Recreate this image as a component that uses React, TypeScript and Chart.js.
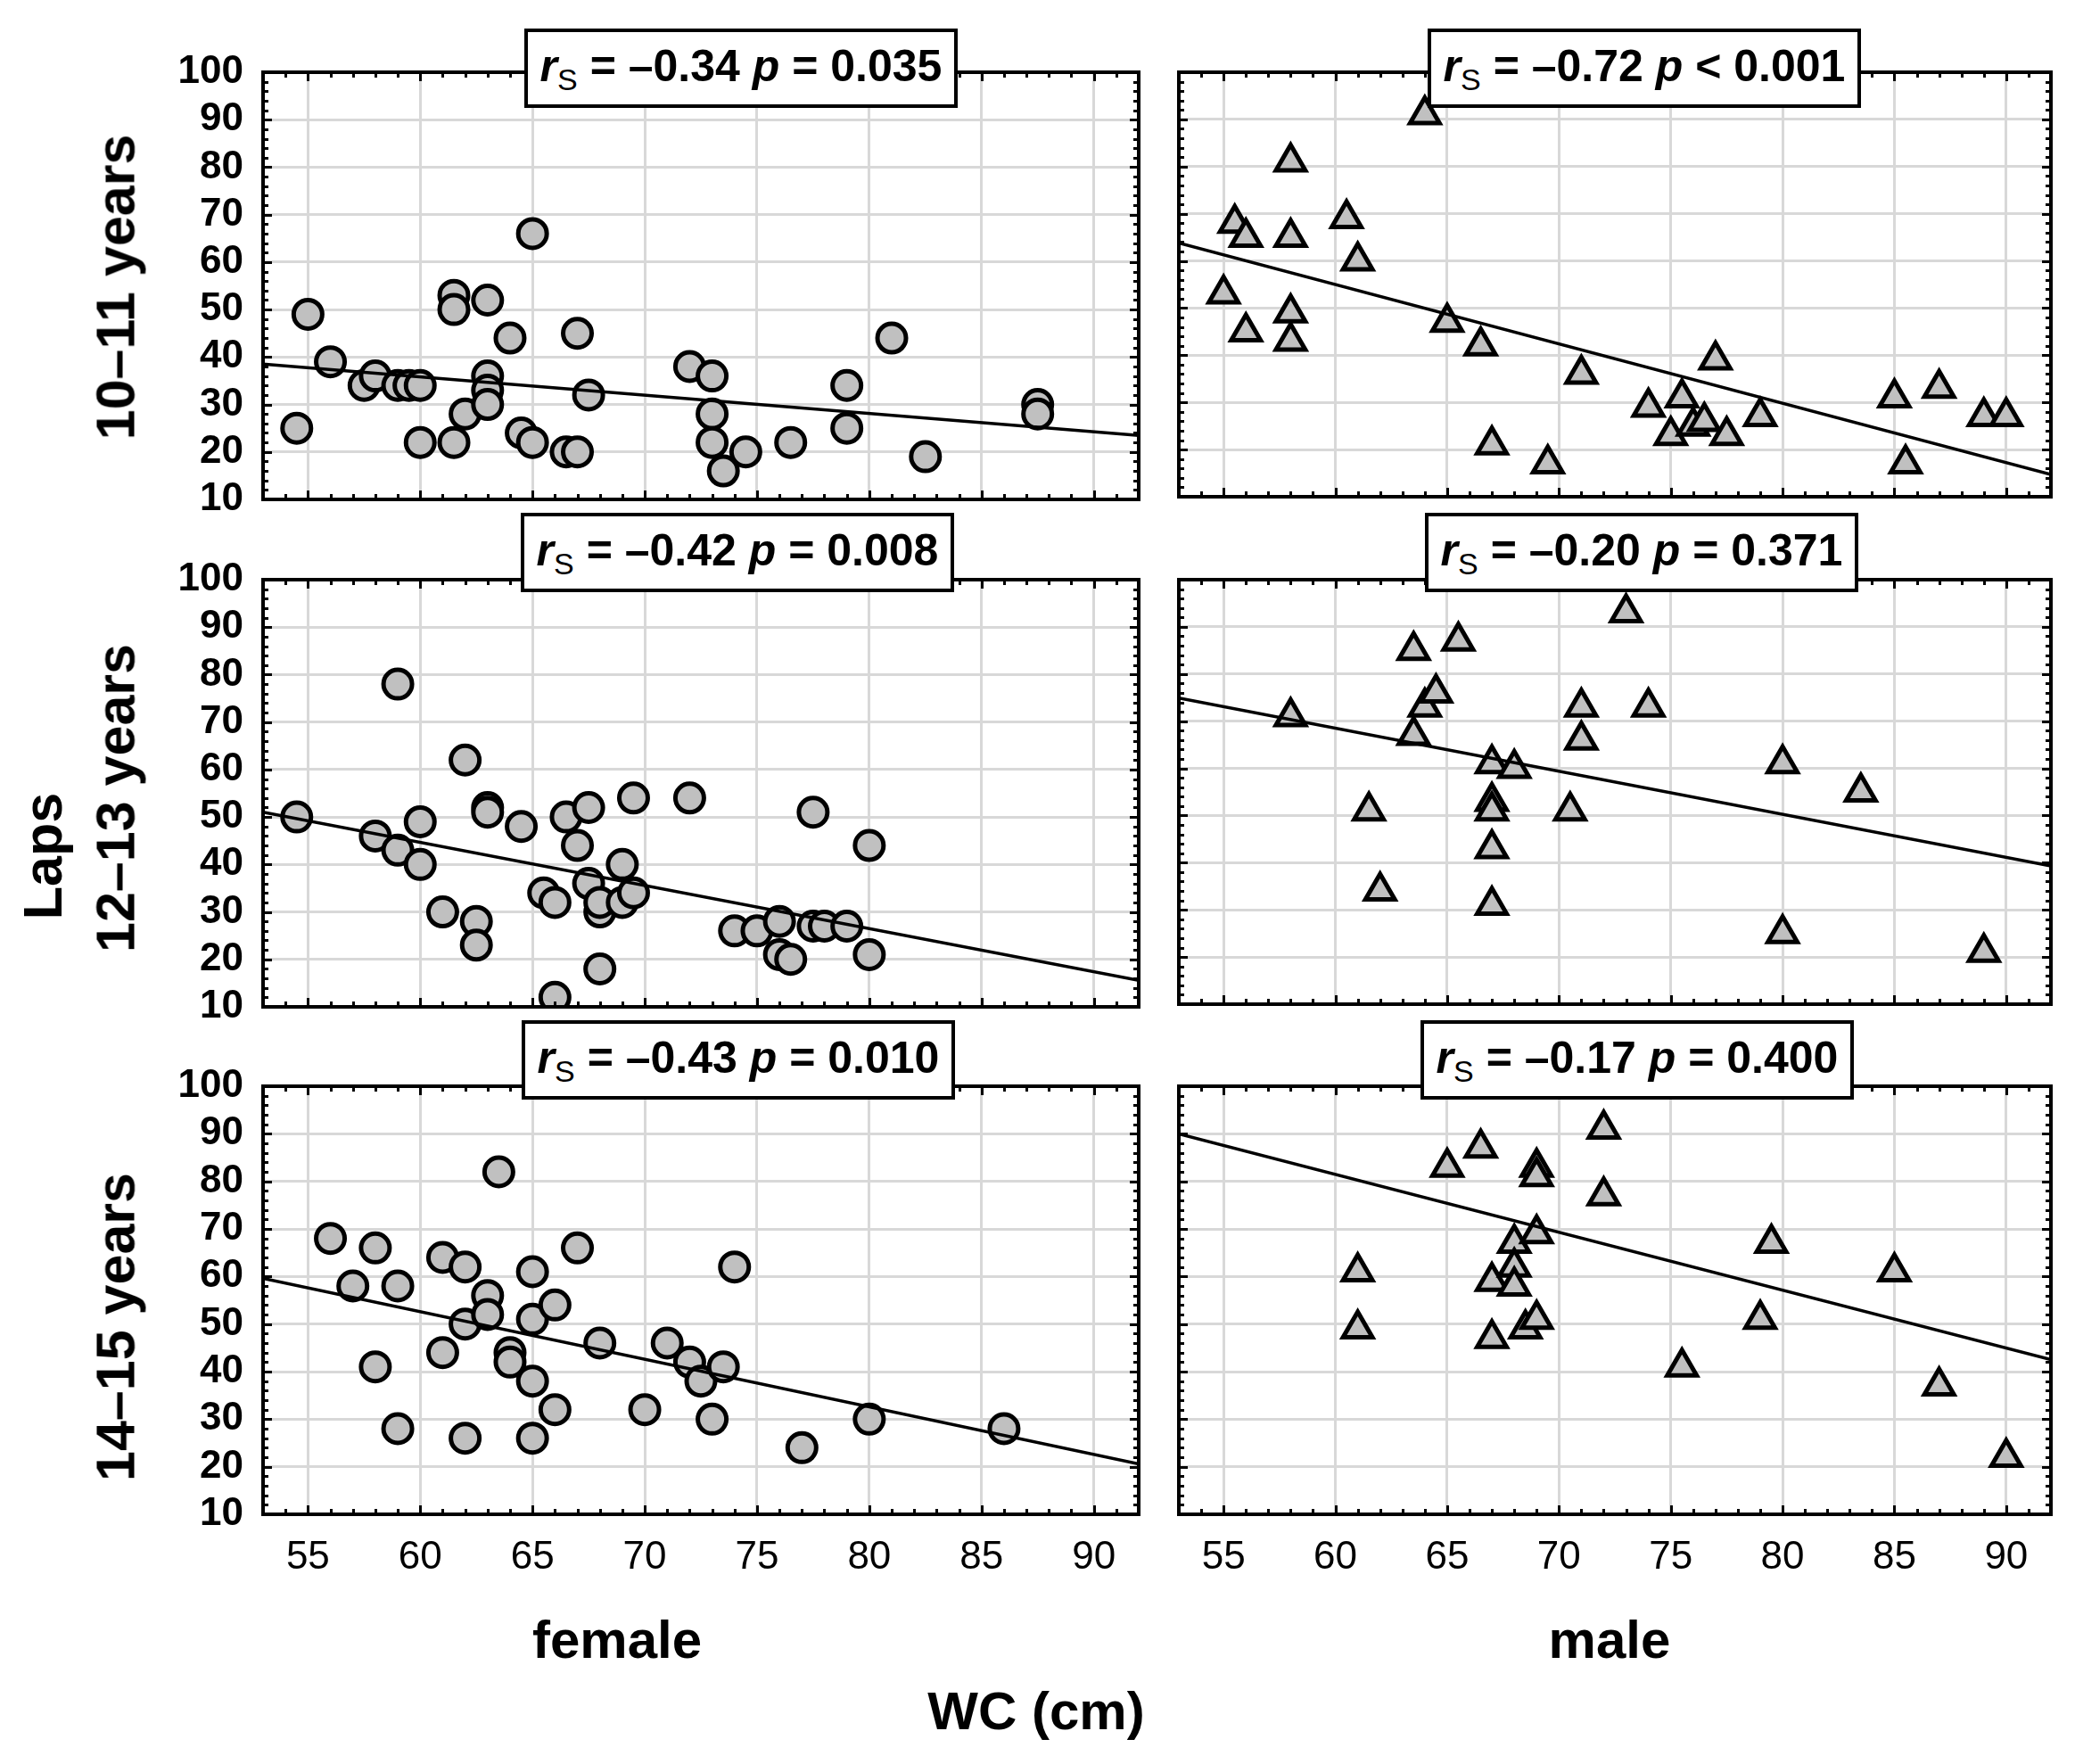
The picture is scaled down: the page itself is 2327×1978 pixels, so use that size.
import React, { useEffect, useRef } from 'react';
import { Chart, registerables } from 'chart.js';

Chart.register(...registerables);

const FONT = "'Liberation Sans', Arial, Helvetica, sans-serif";

// categories
const ageGroups = ['10–11 years', '12–13 years', '14–15 years'];
const sexes = ['female', 'male'];

// Spearman statistics per panel (row by row, female then male)
const rsLabels = ['–0.34', '–0.72', '–0.42', '–0.20', '–0.43', '–0.17'];
const pLabels = ['= 0.035', '< 0.001', '= 0.008', '= 0.371', '= 0.010', '= 0.400'];

// axis ticks
const xTicks = [55, 60, 65, 70, 75, 80, 85, 90];
const yTicks = [10, 20, 30, 40, 50, 60, 70, 80, 90, 100];
const xRange = [53, 92];
const yRange = [10, 100];

// 10–11 years
const female1011X = [54.5, 55, 56, 57.5, 58, 59, 59.5, 60, 60, 61.5, 61.5, 61.5, 62, 63, 63, 63, 63, 64, 64.5, 65, 65, 66.5, 67, 67, 67.5, 72, 73, 73, 73, 73.5, 74.5, 76.5, 79, 79, 81, 82.5, 87.5, 87.5];
const female1011Y = [25, 49, 39, 34, 36, 34, 34, 34, 22, 53, 50, 22, 28, 52, 36, 33, 30, 44, 24, 22, 66, 20, 20, 45, 32, 38, 36, 28, 22, 16, 20, 22, 34, 25, 44, 19, 30, 28];
const male1011X = [55, 55.5, 56, 56, 58, 58, 58, 58, 60.5, 61, 64, 65, 66.5, 67, 69.5, 71, 74, 75.5, 75, 76, 76.5, 77.5, 77, 79, 85, 85.5, 87, 89, 90];
const male1011Y = [53, 68, 65, 45, 81, 65, 49, 43, 69, 60, 91, 47, 42, 21, 17, 36, 29, 31, 23, 25, 26, 23, 39, 27, 31, 17, 33, 27, 27];

// 12–13 years
const female1213X = [54.5, 58, 59, 59, 60, 60, 61, 62, 62.5, 62.5, 63, 63, 64.5, 65.5, 66, 66, 66.5, 67, 67.5, 67.5, 68, 68, 68, 69, 69, 69.5, 69.5, 72, 74, 75, 76, 76, 76.5, 77.5, 77.5, 78, 79, 80, 80];
const female1213Y = [50, 46, 43, 78, 49, 40, 30, 62, 28, 23, 52, 51, 48, 34, 32, 12, 50, 44, 52, 36, 30, 32, 18, 40, 32, 34, 54, 54, 26, 26, 28, 21, 20, 51, 27, 27, 27, 44, 21];
const male1213X = [58, 61.5, 62, 63.5, 63.5, 64, 64.5, 65.5, 67, 67, 67, 67, 67, 68, 70.5, 71, 71, 73, 74, 80, 80, 83.5, 89];
const male1213Y = [71, 51, 34, 85, 67, 73, 76, 87, 61, 53, 51, 43, 31, 60, 51, 73, 66, 93, 73, 61, 25, 55, 21];

// 14–15 years
const female1415X = [56, 57, 58, 58, 59, 59, 61, 61, 62, 62, 62, 63, 63, 63.5, 64, 64, 65, 65, 65, 65, 66, 66, 67, 68, 70, 71, 72, 72.5, 73, 73.5, 74, 77, 80, 86];
const female1415Y = [68, 58, 66, 41, 58, 28, 64, 44, 62, 50, 26, 56, 52, 82, 44, 42, 61, 51, 38, 26, 54, 32, 66, 46, 32, 46, 42, 38, 30, 41, 62, 24, 30, 28];
const male1415X = [61, 61, 65, 66.5, 67, 67, 68, 68, 68, 68.5, 69, 69, 69, 69, 72, 72, 75.5, 79, 79.5, 85, 87, 90];
const male1415Y = [61, 49, 83, 87, 59, 47, 67, 62, 58, 49, 83, 81, 69, 51, 91, 77, 41, 51, 67, 61, 37, 22];

// fitted lines, value at x = 53 and x = 92
const female1011Fit = [38.5, 23.5];
const male1011Fit = [63.8, 14.7];
const female1213Fit = [51, 15.6];
const male1213Fit = [74.9, 39.3];
const female1415Fit = [59.6, 20.6];
const male1415Fit = [90, 42.5];

const panels = [
  { xs: female1011X, ys: female1011Y, fit: female1011Fit },
  { xs: male1011X, ys: male1011Y, fit: male1011Fit },
  { xs: female1213X, ys: female1213Y, fit: female1213Fit },
  { xs: male1213X, ys: male1213Y, fit: male1213Fit },
  { xs: female1415X, ys: female1415Y, fit: female1415Fit },
  { xs: male1415X, ys: male1415Y, fit: male1415Fit },
];

// layout (page pixels)
const COL_LEFT = [295, 1318];
const ROW_TOP = [81, 650, 1218];
const PLOT_W = 982;
const PLOT_H = 480;
const PAD = 30;
const BOX_POS = [
  [588, 32], [1601, 32],
  [584, 575], [1598, 575],
  [585, 1144], [1593, 1144],
];

// inward tick marks on all four sides + frame
const frameTicks = {
  id: 'frameTicks',
  afterDraw(chart: any) {
    const { ctx, chartArea: a, scales } = chart;
    const x = scales.x;
    const y = scales.y;
    ctx.save();
    ctx.strokeStyle = '#000';
    ctx.lineWidth = 3;
    ctx.beginPath();
    for (let v = xRange[0] + 1; v < xRange[1]; v++) {
      const len = v % 5 === 0 ? 10 : 6;
      const px = Math.round(x.getPixelForValue(v)) + 0.5;
      ctx.moveTo(px, a.bottom);
      ctx.lineTo(px, a.bottom - len);
      ctx.moveTo(px, a.top);
      ctx.lineTo(px, a.top + len);
    }
    for (let v = yRange[0] + 2; v < yRange[1]; v += 2) {
      const len = v % 10 === 0 ? 10 : 6;
      const py = Math.round(y.getPixelForValue(v)) + 0.5;
      ctx.moveTo(a.left, py);
      ctx.lineTo(a.left + len, py);
      ctx.moveTo(a.right, py);
      ctx.lineTo(a.right - len, py);
    }
    ctx.stroke();
    ctx.lineWidth = 4;
    ctx.strokeRect(a.left, a.top, a.right - a.left, a.bottom - a.top);
    ctx.restore();
  },
};

type PanelProps = { index: number };

const Panel = ({ index }: PanelProps) => {
  const ref = useRef<HTMLCanvasElement>(null);
  const row = Math.floor(index / 2);
  const col = index % 2;
  const showY = col === 0;
  const showX = row === 2;
  const lw = showY ? 150 : 20;
  const pb = showX ? 110 : 20;
  const w = lw + PLOT_W + PAD;
  const h = PAD + PLOT_H + pb;
  const { xs, ys, fit } = panels[index];
  const marker = col === 0 ? 'circle' : 'triangle';

  useEffect(() => {
    const chart = new Chart(ref.current as HTMLCanvasElement, {
      type: 'scatter',
      data: {
        datasets: [
          {
            type: 'line',
            data: [
              { x: xRange[0], y: fit[0] },
              { x: xRange[1], y: fit[1] },
            ],
            borderColor: '#000',
            borderWidth: 3.5,
            pointRadius: 0,
            fill: false,
          } as any,
          {
            data: xs.map((x, i) => ({ x, y: ys[i] })),
            pointStyle: marker,
            pointRadius: marker === 'circle' ? 16 : 19,
            pointHoverRadius: marker === 'circle' ? 16 : 19,
            pointBorderWidth: 5,
            backgroundColor: '#c0c0c0',
            borderColor: '#000',
          },
        ],
      },
      options: {
        responsive: false,
        animation: false,
        devicePixelRatio: 1,
        layout: { padding: { top: PAD, right: PAD, left: 0, bottom: 0 } },
        plugins: { legend: { display: false }, tooltip: { enabled: false } },
        scales: {
          x: {
            type: 'linear',
            min: xRange[0],
            max: xRange[1],
            afterBuildTicks: (s: any) => {
              s.ticks = xTicks.map((v) => ({ value: v }));
            },
            afterFit: (s: any) => {
              s.height = pb;
              s.paddingLeft = 0;
              s.paddingRight = 0;
            },
            grid: { color: '#d8d8d8', lineWidth: 3, drawTicks: false },
            border: { display: false },
            ticks: {
              display: showX,
              autoSkip: false,
              maxRotation: 0,
              padding: 22,
              color: '#000',
              font: { family: FONT, size: 44, weight: 'normal' },
            },
          },
          y: {
            type: 'linear',
            min: yRange[0],
            max: yRange[1],
            afterBuildTicks: (s: any) => {
              s.ticks = yTicks.map((v) => ({ value: v }));
            },
            afterFit: (s: any) => {
              s.width = lw;
              s.paddingTop = 0;
              s.paddingBottom = 0;
            },
            grid: { color: '#d8d8d8', lineWidth: 3, drawTicks: false },
            border: { display: false },
            ticks: {
              display: showY,
              autoSkip: false,
              padding: 22,
              color: '#000',
              font: { family: FONT, size: 44, weight: 'bold' },
            },
          },
        },
      } as any,
      plugins: [frameTicks],
    });
    return () => chart.destroy();
  }, [index]);

  return (
    <canvas
      ref={ref}
      width={w}
      height={h}
      style={{ position: 'absolute', left: COL_LEFT[col] - lw, top: ROW_TOP[row] - PAD, width: w, height: h }}
    />
  );
};

const StatBox = ({ index }: PanelProps) => {
  const [left, top] = BOX_POS[index];
  return (
    <div
      style={{
        position: 'absolute',
        left,
        top,
        width: 486,
        height: 89,
        boxSizing: 'border-box',
        border: '4px solid #000',
        background: '#fff',
        display: 'flex',
        alignItems: 'center',
        justifyContent: 'center',
        fontFamily: FONT,
        fontWeight: 'bold',
        fontSize: 50,
        whiteSpace: 'pre',
        zIndex: 2,
      }}
    >
      <span>
        <i>r</i>
        <span style={{ fontSize: 34, fontWeight: 'normal', verticalAlign: -10 }}>S</span>
        {` = ${rsLabels[index]} `}
        <i>p</i>
        {` ${pLabels[index]}`}
      </span>
    </div>
  );
};

const rowLabelCenters = [322, 895, 1488];

const App = () => {
  const label = (text: string, cx: number, cy: number, rotate: boolean) => (
    <div
      key={text}
      style={{
        position: 'absolute',
        left: cx,
        top: cy,
        transform: `translate(-50%, -50%)${rotate ? ' rotate(-90deg)' : ''}`,
        fontFamily: FONT,
        fontWeight: 'bold',
        fontSize: rotate ? 61 : 60,
        lineHeight: rotate ? '61px' : '60px',
        whiteSpace: 'nowrap',
        color: '#000',
      }}
    >
      {text}
    </div>
  );

  return (
    <div style={{ position: 'absolute', left: 0, top: 0, width: 2327, height: 1978, background: '#fff' }}>
      {panels.map((_, i) => (
        <Panel key={`p${i}`} index={i} />
      ))}
      {panels.map((_, i) => (
        <StatBox key={`b${i}`} index={i} />
      ))}
      {ageGroups.map((g, r) => label(g, 130, rowLabelCenters[r], true))}
      {label('Laps', 48, 960, true)}
      {label(sexes[0], 692, 1839, false)}
      {label(sexes[1], 1805, 1839, false)}
      {label('WC (cm)', 1162, 1919, false)}
    </div>
  );
};

export default App;
